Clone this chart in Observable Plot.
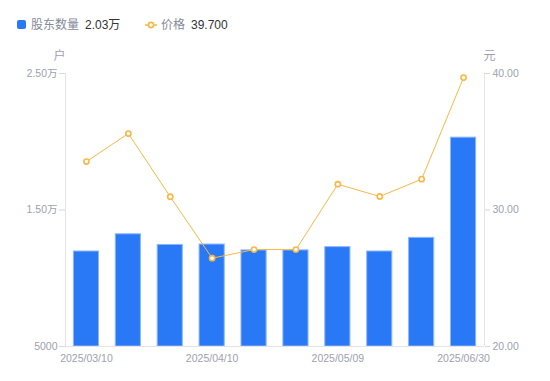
<!DOCTYPE html>
<html>
<head>
<meta charset="utf-8">
<script src="https://cdn.jsdelivr.net/npm/d3@7"></script>
<script src="https://cdn.jsdelivr.net/npm/@observablehq/plot@0.6"></script>
<style>
  html, body { margin: 0; padding: 0; background: #fff; width: 550px; height: 381px; overflow: hidden; }
  body { font-family: "Liberation Sans", "Noto Sans CJK SC", sans-serif; }
  #legend { position: relative; height: 40px; font-size: 12px; }
  #legend .item { position: absolute; top: 16px; line-height: 16px; white-space: nowrap; }
  #legend .name { color: #858a99; font-family: "Noto Sans CJK SC", sans-serif; }
  #legend .val { color: #333; margin-left: 6px; }
  #chart svg { display: block; }
</style>
</head>
<body>
<div id="legend">
  <div class="item" style="left:17px;">
    <span style="display:inline-block;width:9px;height:9px;background:#2979f6;border-radius:2px;vertical-align:-0px;margin-right:5px;"></span><span class="name">股东数量</span><span class="val">2.03万</span>
  </div>
  <div class="item" style="left:145px;">
    <svg width="12" height="10" style="vertical-align:-1px;margin-right:4px;"><line x1="0" y1="5" x2="12" y2="5" stroke="#f9b746" stroke-width="1.5"/><circle cx="6" cy="5" r="2.6" fill="#fff" stroke="#f9b746" stroke-width="1.6"/></svg><span class="name">价格</span><span class="val">39.700</span>
  </div>
</div>
<div id="chart"></div>
<script>
const dates = ["2025/03/10","2025/03/20","2025/03/31","2025/04/10","2025/04/18","2025/04/30","2025/05/09","2025/05/20","2025/06/10","2025/06/30"];
const holders = [11960, 13220, 12440, 12470, 12040, 12040, 12280, 11960, 12960, 20300];
const prices = [33.55, 35.60, 30.97, 26.47, 27.10, 27.10, 31.89, 30.99, 32.26, 39.70];
const leftTicks = [5000, 15000, 25000];
const rightTicks = [20, 30, 40];
const xLabelDates = ["2025/03/10","2025/04/10","2025/05/09","2025/06/30"];

// price axis mapped onto the holder scale: 20 -> 5000, 40 -> 25000
const pToY = p => 5000 + (p - 20) * 1000;
const yToP = y => 20 + (y - 5000) / 1000;

const data = dates.map((d, i) => ({date: d, holders: holders[i], price: prices[i]}));
const fmtLeft = v => v >= 10000 ? (v / 10000).toFixed(2) + "万" : String(v);

const grey = "#9ea1ad";
const font = '"Liberation Sans", "Noto Sans CJK SC", sans-serif';
const plot = Plot.plot({
  width: 550,
  height: 341,
  marginTop: 33,
  marginBottom: 35,
  marginLeft: 65,
  marginRight: 66,
  style: {fontFamily: font, fontSize: "10.5px", background: "#fff"},
  x: {domain: dates, paddingInner: 0.4, paddingOuter: 0.2, align: 0.5, round: false, axis: null},
  y: {domain: [5000, 25000], axis: null},
  marks: [
    Plot.barY(data, {x: "date", y1: 5000, y2: "holders", fill: "#2979f6", stroke: "#8cb6fb", strokeWidth: 1}),
    Plot.ruleY([5000], {stroke: "#e3e3e8"}),
    Plot.axisY(leftTicks, {anchor: "left", tickFormat: fmtLeft, stroke: "#d8d8de", color: grey, tickSize: 6, tickPadding: 2, label: null, fontSize: 10.5}),
    Plot.axisY(rightTicks.map(pToY), {anchor: "right", tickFormat: v => yToP(v).toFixed(2), stroke: "#d8d8de", color: grey, tickSize: 5, tickPadding: 3, label: null, fontSize: 10.5}),
    Plot.axisX(xLabelDates, {anchor: "bottom", tickSize: 0, tickPadding: 8, color: grey, label: null, fontSize: 10.5}),
    Plot.text(["户"], {frameAnchor: "top-left", dx: -12, dy: -22, fill: grey, fontSize: 12, fontFamily: "Noto Sans CJK SC"}),
    Plot.text(["元"], {frameAnchor: "top-right", dx: 11, dy: -22, fill: grey, fontSize: 12, fontFamily: "Noto Sans CJK SC"}),
    Plot.line(data, {x: "date", y: d => pToY(d.price), stroke: "#f9b746", strokeWidth: 1}),
    Plot.dot(data, {x: "date", y: d => pToY(d.price), r: 2.6, fill: "#fff", stroke: "#f9b746", strokeWidth: 1.6})
  ]
});
document.getElementById("chart").append(plot);
// axis lines on both sides of the frame
const svg = d3.select(plot);
svg.insert("line", ":first-child").attr("x1", 65.5).attr("x2", 65.5).attr("y1", 33).attr("y2", 306).attr("stroke", "#e3e3e8");
svg.insert("line", ":first-child").attr("x1", 484.5).attr("x2", 484.5).attr("y1", 33).attr("y2", 306).attr("stroke", "#e3e3e8");
</script>
</body>
</html>
